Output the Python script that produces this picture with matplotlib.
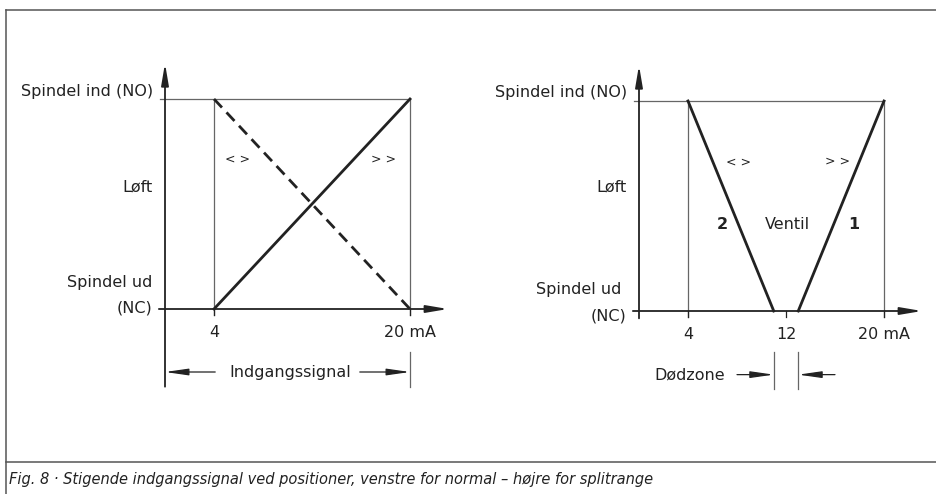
import matplotlib
matplotlib.use("Agg")
import matplotlib.pyplot as plt
from matplotlib.lines import Line2D

# -------------------------
# data
# -------------------------

signal_ma = [4, 20]
lift_increasing = [0, 1]
lift_decreasing = [1, 0]

split_ma_2 = [4, 11]
split_lift_2 = [1, 0]
split_ma_1 = [13, 20]
split_lift_1 = [0, 1]

left_ticks = [4, 20]
right_ticks = [4, 12, 20]
tick_labels = {4: "4", 12: "12", 20: "20 mA"}

label_top = "Spindel ind (NO)"
label_mid = "Løft"
label_low = ["Spindel ud", "(NC)"]
caption = ("Fig. 8 · Stigende indgangssignal ved positioner, "
           "venstre for normal – højre for splitrange")

W, H = 936, 494
PPX = 12.25
PPY = 210.0
XMIN, XMAX = -1.0, 24.0
YMIN, YMAX = -0.45, 1.25

DARK = "#222222"
GRAY = "#666666"
FONT = "DejaVu Sans"
FS = 11.5

plt.rcParams["font.family"] = FONT

fig = plt.figure(figsize=(W / 100, H / 100), dpi=100)


def make_axes(ox, oy):
    left = (ox + XMIN * PPX) / W
    width = (XMAX - XMIN) * PPX / W
    bottom = (H - (oy - YMIN * PPY)) / H
    height = (YMAX - YMIN) * PPY / H
    ax = fig.add_axes([left, bottom, width, height])
    ax.set_xlim(XMIN, XMAX)
    ax.set_ylim(YMIN, YMAX)
    ax.axis("off")
    return ax


def arrow(ax, start, end, lw=1.3, head=1.3, width=0.22):
    ax.annotate(
        "",
        xy=end,
        xytext=start,
        arrowprops=dict(
            arrowstyle="-|>,head_length=%s,head_width=%s" % (head, width),
            lw=lw,
            color=DARK,
            shrinkA=0,
            shrinkB=0,
        ),
        annotation_clip=False,
    )


def frame(ax, ticks, y_axis_bottom, label_ys, label_xs):
    # y axis with arrow
    arrow(ax, (0, y_axis_bottom), (0, 1.17))
    # x axis with arrow
    arrow(ax, (-0.5, 0), (23.1, 0))
    # top level line + tick
    ax.plot([-0.4, 20], [1, 1], color=GRAY, lw=0.9, clip_on=False)
    # verticals at 4 and 20
    for x in [4, 20]:
        ax.plot([x, x], [1, -0.03], color=GRAY, lw=0.9, clip_on=False)
    for x in ticks:
        ax.plot([x, x], [0, -0.03], color=DARK, lw=0.9, clip_on=False)
        if x == 20:
            ax.text(17.9, -0.114, tick_labels[x], ha="left", va="center",
                    fontsize=FS, color=DARK)
        else:
            ax.text(x, -0.114, tick_labels[x], ha="center", va="center",
                    fontsize=FS, color=DARK)

    texts = [label_top, label_mid, label_low[0], label_low[1]]
    for text, lx, ly in zip(texts, label_xs, label_ys):
        ax.text(lx, ly, text, ha="right", va="center", fontsize=FS,
                color=DARK)


# -------------------------
# left: normal
# -------------------------

ax1 = make_axes(165, 309)
frame(ax1, left_ticks, -0.37, [1.035, 0.58, 0.124, 0.005],
      [-1.0, -1.0, -1.0, -1.0])

ax1.plot(signal_ma, lift_increasing, color=DARK, lw=2.0)
ax1.plot(signal_ma, lift_decreasing, color=DARK, lw=2.0,
         dashes=(4.2, 2.4))

ax1.text(5.9, 0.71, "< >", ha="center", va="center", fontsize=9,
         color=DARK)
ax1.text(17.8, 0.71, "> >", ha="center", va="center", fontsize=9,
         color=DARK)

# dimension: Indgangssignal
ax1.plot([20, 20], [-0.205, -0.37], color=GRAY, lw=0.9, clip_on=False)
arrow(ax1, (4.1, -0.30), (0, -0.30), lw=0.9, head=1.4, width=0.2)
arrow(ax1, (15.9, -0.30), (20, -0.30), lw=0.9, head=1.4, width=0.2)
ax1.text(10.2, -0.30, "Indgangssignal", ha="center", va="center",
         fontsize=FS, color=DARK)

# -------------------------
# right: split range
# -------------------------

ax2 = make_axes(639, 311)
frame(ax2, right_ticks, -0.035, [1.04, 0.59, 0.104, -0.024],
      [-1.0, -1.0, -1.4, -1.0])

ax2.plot(split_ma_2, split_lift_2, color=DARK, lw=2.0)
ax2.plot(split_ma_1, split_lift_1, color=DARK, lw=2.0)

ax2.text(8.16, 0.706, "< >", ha="center", va="center", fontsize=9,
         color=DARK)
ax2.text(16.2, 0.71, "> >", ha="center", va="center", fontsize=9,
         color=DARK)
ax2.text(6.8, 0.41, "2", ha="center", va="center", fontsize=FS,
         fontweight="bold", color=DARK)
ax2.text(12.1, 0.41, "Ventil", ha="center", va="center", fontsize=FS,
         color=DARK)
ax2.text(17.5, 0.41, "1", ha="center", va="center", fontsize=FS,
         fontweight="bold", color=DARK)

# dimension: Dødzone
for x in [split_ma_2[1], split_ma_1[0]]:
    ax2.plot([x, x], [-0.194, -0.37], color=GRAY, lw=0.9, clip_on=False)
arrow(ax2, (8.0, -0.303), (split_ma_2[1], -0.303), lw=0.9, head=1.4,
      width=0.2)
arrow(ax2, (16.0, -0.303), (split_ma_1[0], -0.303), lw=0.9, head=1.4,
      width=0.2)
ax2.text(4.15, -0.303, "Dødzone", ha="center", va="center", fontsize=FS,
         color=DARK)

# -------------------------
# page frame + caption
# -------------------------

frame_color = "#555555"
fig.add_artist(Line2D([6 / W, 1], [1 - 10 / H, 1 - 10 / H],
                      transform=fig.transFigure, color=frame_color, lw=1.1))
fig.add_artist(Line2D([6 / W, 6 / W], [0, 1 - 10 / H],
                      transform=fig.transFigure, color=frame_color, lw=1.1))
fig.add_artist(Line2D([6 / W, 1], [1 - 462 / H, 1 - 462 / H],
                      transform=fig.transFigure, color=frame_color, lw=1.1))

fig.text(9 / W, 1 - 479 / H, caption, ha="left", va="center",
         fontsize=10.5, style="italic", color=DARK)

fig.savefig("out.png", dpi=100)
